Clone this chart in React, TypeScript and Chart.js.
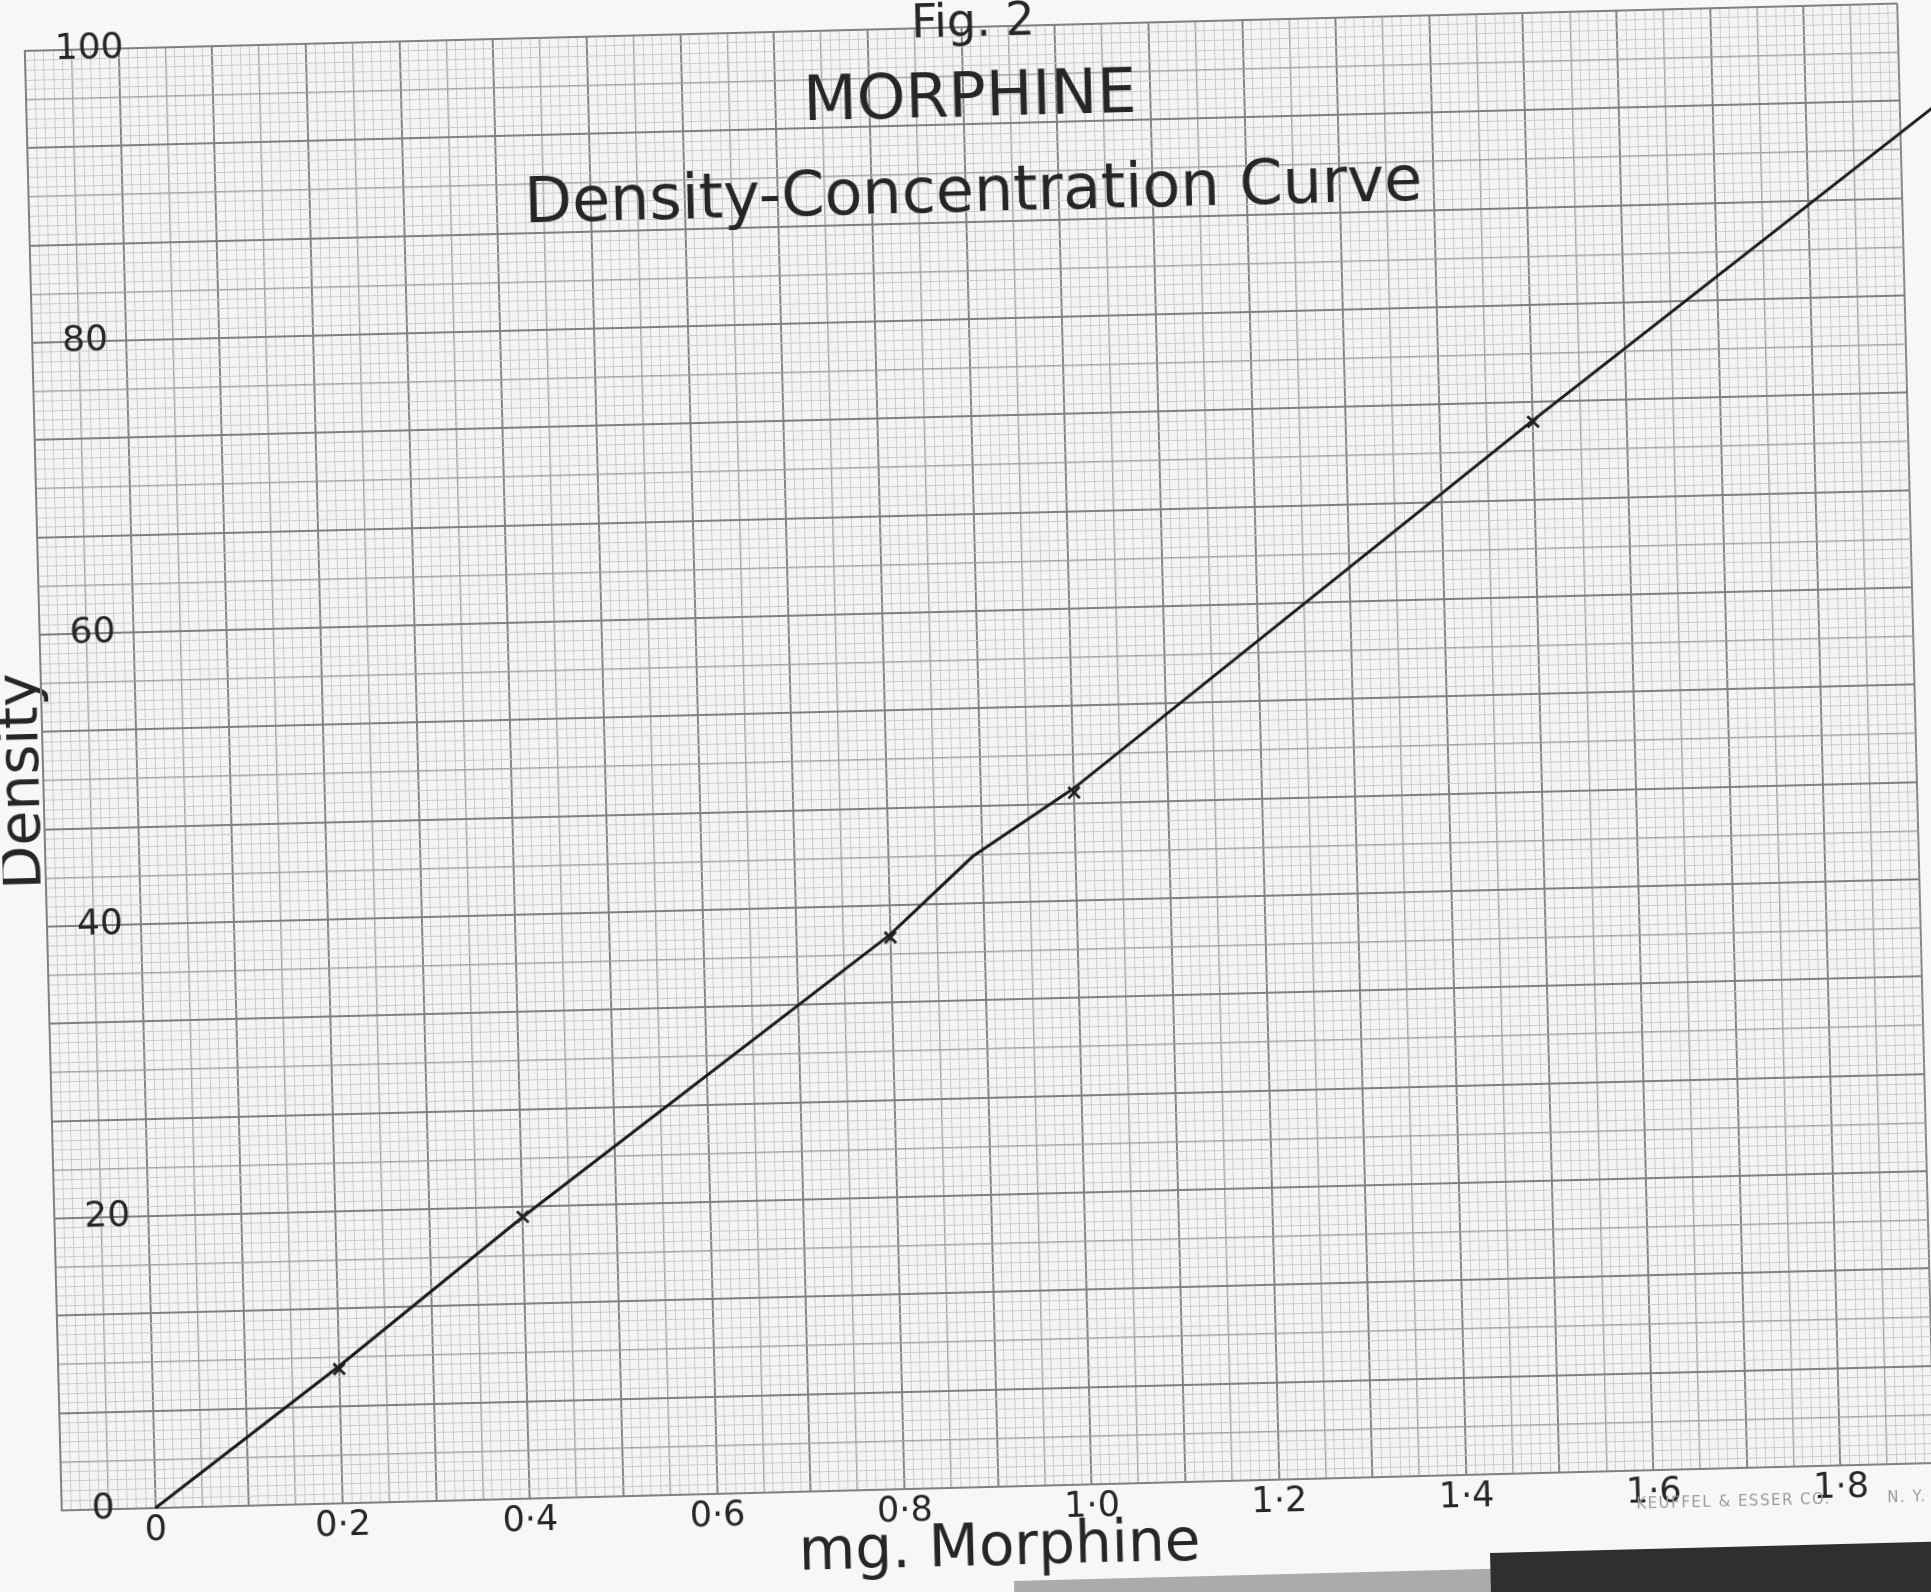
import React, { useEffect, useRef } from 'react';
import { Chart, registerables } from 'chart.js';

Chart.register(...registerables);

// ---- values ----
const doseMg = [0.2, 0.4, 0.8, 1.0, 1.5];
const densityReadings = [9.2, 19.3, 37.8, 47.4, 72.0];

const curveDoseMg = [0, 0.2, 0.4, 0.8, 0.89, 1.0, 1.5, 1.96];
const curveDensity = [0, 9.4, 19.3, 38.0, 43.2, 47.7, 72.1, 94.0];

const xTickValues = [0, 0.2, 0.4, 0.6, 0.8, 1.0, 1.2, 1.4, 1.6, 1.8];
const xTickLabels = ['0', '0·2', '0·4', '0·6', '0·8', '1·0', '1·2', '1·4', '1·6', '1·8'];
const yTickValues = [0, 20, 40, 60, 80, 100];
const yTickLabels = ['0', '20', '40', '60', '80', '100'];

const figLabel = 'Fig. 2';
const titleText = 'MORPHINE';
const subtitleText = 'Density-Concentration Curve';
const xAxisTitle = 'mg. Morphine';
const yAxisTitle = 'Density';
const makerText = 'KEUFFEL & ESSER CO.';
const makerCity = 'N. Y.';

// ---- graph-paper ruling ----
const X_MIN = -0.1;
const X_MAX = 1.9;
const X_MINOR = 0.01;
const Y_MIN = 0;
const Y_MAX = 100;
const Y_MINOR_COUNT = 150;

const W = 1931;
const H = 1592;
const CANVAS_W = 1990;
const TILT = 1.45;
const AREA_LEFT = 43;
const AREA_RIGHT_PAD = 15 + (CANVAS_W - W);
const AREA_TOP = 27;
const X_AXIS_H = 105;
const FONT = '"DejaVu Sans", "Noto Sans", sans-serif';
const INK = '#262626';
const PAPER = '#f7f7f7';
const GRID_BG = '#f4f4f4';
const MINOR = '#cbcbcb';
const MEDIUM = '#a4a4a4';
const HEAVY = '#808080';

const xGrid = Array.from(
  { length: Math.round((X_MAX - X_MIN) / X_MINOR) + 1 },
  (_, i) => Math.round((X_MIN + i * X_MINOR) * 10000) / 10000
);
const yGrid = Array.from({ length: Y_MINOR_COUNT + 1 }, (_, i) => Y_MIN + (i * (Y_MAX - Y_MIN)) / Y_MINOR_COUNT);

const xRank = (v: number) => {
  const k = Math.round((v - X_MIN) / X_MINOR);
  return k % 10 === 0 ? 2 : k % 5 === 0 ? 1 : 0;
};
const yRank = (v: number) => {
  const k = Math.round(((v - Y_MIN) / (Y_MAX - Y_MIN)) * Y_MINOR_COUNT);
  return k % 10 === 0 ? 2 : k % 5 === 0 ? 1 : 0;
};
const rankColor = [MINOR, MEDIUM, HEAVY];
const rankWidth = [1, 1.4, 1.9];

const findLabel = (values: number[], labels: string[], v: number) => {
  const i = values.findIndex((t) => Math.abs(t - v) < 1e-6);
  return i >= 0 ? labels[i] : '';
};

const paperPlugin = {
  id: 'paperAndLettering',
  beforeDraw(chart: any) {
    const { ctx, chartArea: a, width, height } = chart;
    ctx.save();
    ctx.fillStyle = PAPER;
    ctx.fillRect(0, 0, width, height);
    ctx.fillStyle = GRID_BG;
    ctx.fillRect(a.left, a.top, a.right - a.left, a.bottom - a.top);
    ctx.restore();
  },
  beforeDatasetsDraw(chart: any) {
    const { ctx, chartArea: a } = chart;
    const cx = (a.left + a.right) / 2;
    ctx.save();
    ctx.fillStyle = INK;
    ctx.textAlign = 'center';
    ctx.textBaseline = 'alphabetic';
    ctx.font = `46px ${FONT}`;
    ctx.fillText(figLabel, cx + 12, a.top + 9);
    ctx.textBaseline = 'middle';
    ctx.font = `62px ${FONT}`;
    ctx.fillText(titleText, cx + 7, a.top + 73);
    ctx.fillText(subtitleText, cx + 8, a.top + 168);
    const xs = chart.scales.x;
    ctx.font = `15px ${FONT}`;
    ctx.fillStyle = '#9a9a9a';
    ctx.letterSpacing = '1.5px';
    ctx.fillText(makerText, xs.getPixelForValue(1.685), a.bottom + 34);
    ctx.fillText(makerCity, xs.getPixelForValue(1.87), a.bottom + 34);
    ctx.restore();
  },
};

export default function App() {
  const ref = useRef<HTMLCanvasElement>(null);

  useEffect(() => {
    const canvas = ref.current;
    if (!canvas) return;
    const chart = new Chart(canvas, {
      type: 'scatter',
      data: {
        datasets: [
          {
            label: 'Readings',
            data: doseMg.map((x, i) => ({ x, y: densityReadings[i] })),
            pointStyle: 'crossRot',
            pointRadius: 8,
            pointBorderWidth: 2.8,
            borderColor: '#202020',
            backgroundColor: '#202020',
            showLine: false,
          },
          {
            label: 'Curve',
            data: curveDoseMg.map((x, i) => ({ x, y: curveDensity[i] })),
            showLine: true,
            pointRadius: 0,
            borderColor: '#1b1b1b',
            borderWidth: 3,
            tension: 0,
            clip: false,
          },
        ],
      },
      options: {
        responsive: false,
        animation: false,
        devicePixelRatio: 1,
        layout: { padding: { left: 0, right: AREA_RIGHT_PAD, top: AREA_TOP, bottom: 0 } },
        plugins: {
          legend: { display: false },
          tooltip: { enabled: false },
          title: { display: false },
        },
        scales: {
          x: {
            type: 'linear',
            position: 'bottom',
            min: X_MIN,
            max: X_MAX,
            afterBuildTicks: (s: any) => {
              s.ticks = xGrid.map((value) => ({ value }));
            },
            afterFit: (s: any) => {
              s.height = X_AXIS_H;
              s.paddingLeft = 0;
              s.paddingRight = 0;
            },
            grid: {
              drawTicks: false,
              color: (c: any) => rankColor[xRank(c.tick.value)],
              lineWidth: (c: any) => rankWidth[xRank(c.tick.value)],
            },
            border: { display: true, color: HEAVY, width: 2 },
            ticks: {
              autoSkip: false,
              maxRotation: 0,
              minRotation: 0,
              padding: 2,
              color: INK,
              font: { family: FONT, size: 35 },
              callback: (v: any) => findLabel(xTickValues, xTickLabels, Number(v)),
            },
            title: {
              display: true,
              text: xAxisTitle,
              color: INK,
              font: { family: FONT, size: 58, lineHeight: 1 },
              padding: { top: 0, bottom: 13 },
            },
          },
          y: {
            type: 'linear',
            position: 'left',
            min: Y_MIN,
            max: Y_MAX,
            afterBuildTicks: (s: any) => {
              s.ticks = yGrid.map((value) => ({ value }));
            },
            afterFit: (s: any) => {
              s.width = AREA_LEFT;
              s.paddingTop = 0;
              s.paddingBottom = 0;
            },
            grid: {
              drawTicks: false,
              color: (c: any) => rankColor[yRank(c.tick.value)],
              lineWidth: (c: any) => rankWidth[yRank(c.tick.value)],
            },
            border: { display: true, color: HEAVY, width: 2 },
            ticks: {
              autoSkip: false,
              mirror: true,
              padding: 30,
              color: INK,
              font: { family: FONT, size: 36 },
              callback: (v: any) => findLabel(yTickValues, yTickLabels, Number(v)),
            },
            title: {
              display: true,
              text: yAxisTitle,
              color: INK,
              font: { family: FONT, size: 57, lineHeight: 1 },
              padding: { top: -5, bottom: 0 },
            },
          },
        },
      },
      plugins: [paperPlugin],
    } as any);
    return () => chart.destroy();
  }, []);

  const tilt = `rotate(${-TILT}deg)`;
  return (
    <div
      style={{
        position: 'fixed',
        left: 0,
        top: 0,
        width: W,
        height: H,
        overflow: 'hidden',
        background: PAPER,
      }}
    >
      <canvas
        ref={ref}
        width={CANVAS_W}
        height={H}
        style={{
          position: 'absolute',
          left: 0,
          top: 0,
          width: CANVAS_W,
          height: H,
          transform: tilt,
          transformOrigin: '979px 757px',
        }}
      />
      <div
        style={{
          position: 'absolute',
          left: 1014,
          top: 1581,
          width: 480,
          height: 40,
          background: '#ababab',
          transform: tilt,
          transformOrigin: 'left top',
        }}
      />
      <div
        style={{
          position: 'absolute',
          left: 1490,
          top: 1553,
          width: 520,
          height: 80,
          background: '#2f2f2f',
          transform: tilt,
          transformOrigin: 'left top',
        }}
      />
    </div>
  );
}
